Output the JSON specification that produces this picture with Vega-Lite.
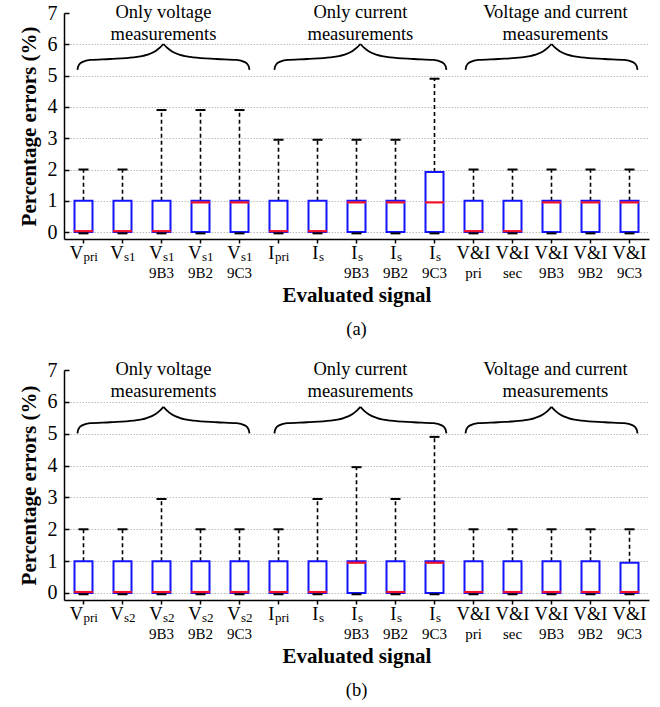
{
  "$schema": "https://vega.github.io/schema/vega-lite/v6.json",
  "padding": {"left": 18, "top": 2, "right": 5, "bottom": 5},
  "spacing": 21,
  "datasets": {
    "box_a": [
      {"cat": "Vpri", "main": "V", "sub": "pri", "line2": "", "min": -0.04, "q1": 0, "med": 0.03, "q3": 1, "max": 2},
      {"cat": "Vs1", "main": "V", "sub": "s1", "line2": "", "min": -0.04, "q1": 0, "med": 0.03, "q3": 1, "max": 2},
      {"cat": "Vs1_9B3", "main": "V", "sub": "s1", "line2": "9B3", "min": -0.04, "q1": 0, "med": 0.03, "q3": 1, "max": 3.9},
      {"cat": "Vs1_9B2", "main": "V", "sub": "s1", "line2": "9B2", "min": -0.04, "q1": 0, "med": 0.95, "q3": 1, "max": 3.9},
      {"cat": "Vs1_9C3", "main": "V", "sub": "s1", "line2": "9C3", "min": -0.04, "q1": 0, "med": 0.95, "q3": 1, "max": 3.9},
      {"cat": "Ipri", "main": "I", "sub": "pri", "line2": "", "min": -0.04, "q1": 0, "med": 0.03, "q3": 1, "max": 2.95},
      {"cat": "Is", "main": "I", "sub": "s", "line2": "", "min": -0.04, "q1": 0, "med": 0.03, "q3": 1, "max": 2.95},
      {"cat": "Is_9B3", "main": "I", "sub": "s", "line2": "9B3", "min": -0.04, "q1": 0, "med": 0.95, "q3": 1, "max": 2.95},
      {"cat": "Is_9B2", "main": "I", "sub": "s", "line2": "9B2", "min": -0.04, "q1": 0, "med": 0.95, "q3": 1, "max": 2.95},
      {"cat": "Is_9C3", "main": "I", "sub": "s", "line2": "9C3", "min": -0.04, "q1": 0, "med": 0.95, "q3": 1.92, "max": 4.9},
      {"cat": "VIpri", "main": "V&I", "sub": "", "line2": "pri", "min": -0.04, "q1": 0, "med": 0.03, "q3": 1, "max": 2},
      {"cat": "VIsec", "main": "V&I", "sub": "", "line2": "sec", "min": -0.04, "q1": 0, "med": 0.03, "q3": 1, "max": 2},
      {"cat": "VI9B3", "main": "V&I", "sub": "", "line2": "9B3", "min": -0.04, "q1": 0, "med": 0.95, "q3": 1, "max": 2},
      {"cat": "VI9B2", "main": "V&I", "sub": "", "line2": "9B2", "min": -0.04, "q1": 0, "med": 0.95, "q3": 1, "max": 2},
      {"cat": "VI9C3", "main": "V&I", "sub": "", "line2": "9C3", "min": -0.04, "q1": 0, "med": 0.95, "q3": 1, "max": 2}
    ],
    "box_b": [
      {"cat": "Vpri", "main": "V", "sub": "pri", "line2": "", "min": -0.04, "q1": 0, "med": 0.03, "q3": 1, "max": 2},
      {"cat": "Vs2", "main": "V", "sub": "s2", "line2": "", "min": -0.04, "q1": 0, "med": 0.03, "q3": 1, "max": 2},
      {"cat": "Vs2_9B3", "main": "V", "sub": "s2", "line2": "9B3", "min": -0.04, "q1": 0, "med": 0.03, "q3": 1, "max": 2.95},
      {"cat": "Vs2_9B2", "main": "V", "sub": "s2", "line2": "9B2", "min": -0.04, "q1": 0, "med": 0.03, "q3": 1, "max": 2},
      {"cat": "Vs2_9C3", "main": "V", "sub": "s2", "line2": "9C3", "min": -0.04, "q1": 0, "med": 0.03, "q3": 1, "max": 2},
      {"cat": "Ipri", "main": "I", "sub": "pri", "line2": "", "min": -0.04, "q1": 0, "med": 0.03, "q3": 1, "max": 2},
      {"cat": "Is", "main": "I", "sub": "s", "line2": "", "min": -0.04, "q1": 0, "med": 0.03, "q3": 1, "max": 2.95},
      {"cat": "Is_9B3", "main": "I", "sub": "s", "line2": "9B3", "min": -0.04, "q1": 0, "med": 0.95, "q3": 1, "max": 3.95},
      {"cat": "Is_9B2", "main": "I", "sub": "s", "line2": "9B2", "min": -0.04, "q1": 0, "med": 0.03, "q3": 1, "max": 2.95},
      {"cat": "Is_9C3", "main": "I", "sub": "s", "line2": "9C3", "min": -0.04, "q1": 0, "med": 0.95, "q3": 1, "max": 4.9},
      {"cat": "VIpri", "main": "V&I", "sub": "", "line2": "pri", "min": -0.04, "q1": 0, "med": 0.03, "q3": 1, "max": 2},
      {"cat": "VIsec", "main": "V&I", "sub": "", "line2": "sec", "min": -0.04, "q1": 0, "med": 0.03, "q3": 1, "max": 2},
      {"cat": "VI9B3", "main": "V&I", "sub": "", "line2": "9B3", "min": -0.04, "q1": 0, "med": 0.03, "q3": 1, "max": 2},
      {"cat": "VI9B2", "main": "V&I", "sub": "", "line2": "9B2", "min": -0.04, "q1": 0, "med": 0.03, "q3": 1, "max": 2},
      {"cat": "VI9C3", "main": "V&I", "sub": "", "line2": "9C3", "min": -0.04, "q1": 0, "med": 0.03, "q3": 0.95, "max": 2}
    ],
    "brace_a": [
      {"b": "1L", "x": 0.345, "y": 5.18}, {"b": "1L", "x": 0.36, "y": 5.28}, {"b": "1L", "x": 0.4, "y": 5.37}, {"b": "1L", "x": 0.48, "y": 5.44}, {"b": "1L", "x": 0.67, "y": 5.5}, {"b": "1L", "x": 1.18, "y": 5.53}, {"b": "1L", "x": 1.78, "y": 5.58}, {"b": "1L", "x": 2.12, "y": 5.66}, {"b": "1L", "x": 2.34, "y": 5.78}, {"b": "1L", "x": 2.465, "y": 5.9}, {"b": "1L", "x": 2.55, "y": 6.01},
      {"b": "1R", "x": 2.55, "y": 6.01}, {"b": "1R", "x": 2.635, "y": 5.9}, {"b": "1R", "x": 2.76, "y": 5.78}, {"b": "1R", "x": 2.98, "y": 5.66}, {"b": "1R", "x": 3.32, "y": 5.58}, {"b": "1R", "x": 3.92, "y": 5.53}, {"b": "1R", "x": 4.43, "y": 5.5}, {"b": "1R", "x": 4.62, "y": 5.44}, {"b": "1R", "x": 4.7, "y": 5.37}, {"b": "1R", "x": 4.74, "y": 5.28}, {"b": "1R", "x": 4.755, "y": 5.18},
      {"b": "2L", "x": 5.395, "y": 5.18}, {"b": "2L", "x": 5.41, "y": 5.28}, {"b": "2L", "x": 5.45, "y": 5.37}, {"b": "2L", "x": 5.53, "y": 5.44}, {"b": "2L", "x": 5.72, "y": 5.5}, {"b": "2L", "x": 6.23, "y": 5.53}, {"b": "2L", "x": 6.83, "y": 5.58}, {"b": "2L", "x": 7.17, "y": 5.66}, {"b": "2L", "x": 7.39, "y": 5.78}, {"b": "2L", "x": 7.515, "y": 5.9}, {"b": "2L", "x": 7.6, "y": 6.01},
      {"b": "2R", "x": 7.6, "y": 6.01}, {"b": "2R", "x": 7.685, "y": 5.9}, {"b": "2R", "x": 7.81, "y": 5.78}, {"b": "2R", "x": 8.03, "y": 5.66}, {"b": "2R", "x": 8.37, "y": 5.58}, {"b": "2R", "x": 8.97, "y": 5.53}, {"b": "2R", "x": 9.48, "y": 5.5}, {"b": "2R", "x": 9.67, "y": 5.44}, {"b": "2R", "x": 9.75, "y": 5.37}, {"b": "2R", "x": 9.79, "y": 5.28}, {"b": "2R", "x": 9.805, "y": 5.18},
      {"b": "3L", "x": 10.295, "y": 5.18}, {"b": "3L", "x": 10.31, "y": 5.28}, {"b": "3L", "x": 10.35, "y": 5.37}, {"b": "3L", "x": 10.43, "y": 5.44}, {"b": "3L", "x": 10.62, "y": 5.5}, {"b": "3L", "x": 11.13, "y": 5.53}, {"b": "3L", "x": 11.73, "y": 5.58}, {"b": "3L", "x": 12.07, "y": 5.66}, {"b": "3L", "x": 12.29, "y": 5.78}, {"b": "3L", "x": 12.415, "y": 5.9}, {"b": "3L", "x": 12.5, "y": 6.01},
      {"b": "3R", "x": 12.5, "y": 6.01}, {"b": "3R", "x": 12.585, "y": 5.9}, {"b": "3R", "x": 12.71, "y": 5.78}, {"b": "3R", "x": 12.93, "y": 5.66}, {"b": "3R", "x": 13.27, "y": 5.58}, {"b": "3R", "x": 13.87, "y": 5.53}, {"b": "3R", "x": 14.37, "y": 5.5}, {"b": "3R", "x": 14.57, "y": 5.44}, {"b": "3R", "x": 14.65, "y": 5.37}, {"b": "3R", "x": 14.69, "y": 5.28}, {"b": "3R", "x": 14.705, "y": 5.18}
    ],
    "brace_b": [
      {"b": "1L", "x": 0.345, "y": 5.01}, {"b": "1L", "x": 0.36, "y": 5.11}, {"b": "1L", "x": 0.4, "y": 5.2}, {"b": "1L", "x": 0.48, "y": 5.27}, {"b": "1L", "x": 0.67, "y": 5.33}, {"b": "1L", "x": 1.18, "y": 5.36}, {"b": "1L", "x": 1.78, "y": 5.41}, {"b": "1L", "x": 2.12, "y": 5.49}, {"b": "1L", "x": 2.34, "y": 5.61}, {"b": "1L", "x": 2.465, "y": 5.73}, {"b": "1L", "x": 2.55, "y": 5.84},
      {"b": "1R", "x": 2.55, "y": 5.84}, {"b": "1R", "x": 2.635, "y": 5.73}, {"b": "1R", "x": 2.76, "y": 5.61}, {"b": "1R", "x": 2.98, "y": 5.49}, {"b": "1R", "x": 3.32, "y": 5.41}, {"b": "1R", "x": 3.92, "y": 5.36}, {"b": "1R", "x": 4.43, "y": 5.33}, {"b": "1R", "x": 4.62, "y": 5.27}, {"b": "1R", "x": 4.7, "y": 5.2}, {"b": "1R", "x": 4.74, "y": 5.11}, {"b": "1R", "x": 4.755, "y": 5.01},
      {"b": "2L", "x": 5.395, "y": 5.01}, {"b": "2L", "x": 5.41, "y": 5.11}, {"b": "2L", "x": 5.45, "y": 5.2}, {"b": "2L", "x": 5.53, "y": 5.27}, {"b": "2L", "x": 5.72, "y": 5.33}, {"b": "2L", "x": 6.23, "y": 5.36}, {"b": "2L", "x": 6.83, "y": 5.41}, {"b": "2L", "x": 7.17, "y": 5.49}, {"b": "2L", "x": 7.39, "y": 5.61}, {"b": "2L", "x": 7.515, "y": 5.73}, {"b": "2L", "x": 7.6, "y": 5.84},
      {"b": "2R", "x": 7.6, "y": 5.84}, {"b": "2R", "x": 7.685, "y": 5.73}, {"b": "2R", "x": 7.81, "y": 5.61}, {"b": "2R", "x": 8.03, "y": 5.49}, {"b": "2R", "x": 8.37, "y": 5.41}, {"b": "2R", "x": 8.97, "y": 5.36}, {"b": "2R", "x": 9.48, "y": 5.33}, {"b": "2R", "x": 9.67, "y": 5.27}, {"b": "2R", "x": 9.75, "y": 5.2}, {"b": "2R", "x": 9.79, "y": 5.11}, {"b": "2R", "x": 9.805, "y": 5.01},
      {"b": "3L", "x": 10.295, "y": 5.01}, {"b": "3L", "x": 10.31, "y": 5.11}, {"b": "3L", "x": 10.35, "y": 5.2}, {"b": "3L", "x": 10.43, "y": 5.27}, {"b": "3L", "x": 10.62, "y": 5.33}, {"b": "3L", "x": 11.13, "y": 5.36}, {"b": "3L", "x": 11.73, "y": 5.41}, {"b": "3L", "x": 12.07, "y": 5.49}, {"b": "3L", "x": 12.29, "y": 5.61}, {"b": "3L", "x": 12.415, "y": 5.73}, {"b": "3L", "x": 12.5, "y": 5.84},
      {"b": "3R", "x": 12.5, "y": 5.84}, {"b": "3R", "x": 12.585, "y": 5.73}, {"b": "3R", "x": 12.71, "y": 5.61}, {"b": "3R", "x": 12.93, "y": 5.49}, {"b": "3R", "x": 13.27, "y": 5.41}, {"b": "3R", "x": 13.87, "y": 5.36}, {"b": "3R", "x": 14.37, "y": 5.33}, {"b": "3R", "x": 14.57, "y": 5.27}, {"b": "3R", "x": 14.65, "y": 5.2}, {"b": "3R", "x": 14.69, "y": 5.11}, {"b": "3R", "x": 14.705, "y": 5.01}
    ],
    "groups_a": [
      {"x": 2.55, "y": 6.85, "t": "Only voltage"}, {"x": 2.55, "y": 6.15, "t": "measurements"},
      {"x": 7.6, "y": 6.85, "t": "Only current"}, {"x": 7.6, "y": 6.15, "t": "measurements"},
      {"x": 12.6, "y": 6.85, "t": "Voltage and current"}, {"x": 12.6, "y": 6.15, "t": "measurements"}
    ],
    "groups_b": [
      {"x": 2.55, "y": 6.84, "t": "Only voltage"}, {"x": 2.55, "y": 6.16, "t": "measurements"},
      {"x": 7.6, "y": 6.84, "t": "Only current"}, {"x": 7.6, "y": 6.16, "t": "measurements"},
      {"x": 12.6, "y": 6.84, "t": "Voltage and current"}, {"x": 12.6, "y": 6.16, "t": "measurements"}
    ]
  },
  "vconcat": [
    {
      "width": 585,
      "height": 226,
      "title": {"text": "(a)"},
      "resolve": {"scale": {"x": "independent"}},
      "layer": [
        {
          "data": {"name": "box_a"},
          "encoding": {
            "x": {"field": "cat", "type": "nominal", "sort": null, "title": "Evaluated signal", "scale": {"paddingInner": 0, "paddingOuter": 0}}
          },
          "layer": [
            {"mark": {"type": "rule", "color": "black", "strokeWidth": 1.6, "strokeDash": [4, 3]},
             "encoding": {"y": {"field": "q3", "type": "quantitative", "title": "Percentage errors (%)", "scale": {"domain": [-0.22, 7], "nice": false, "zero": false},
               "axis": {"values": [0, 1, 2, 3, 4, 5, 6, 7], "gridOpacity": {"condition": {"test": "datum.value === 7", "value": 0}, "value": 1}}},
               "y2": {"field": "max"}}},
            {"mark": {"type": "bar", "size": 18, "fill": "white", "stroke": "#1414ff", "strokeWidth": 2},
             "encoding": {"y": {"field": "q1", "type": "quantitative", "title": "Percentage errors (%)", "axis": {"values": [0, 1, 2, 3, 4, 5, 6, 7], "gridOpacity": {"condition": {"test": "datum.value === 7", "value": 0}, "value": 1}}}, "y2": {"field": "q3"}}},
            {"mark": {"type": "tick", "size": 19, "thickness": 2.2, "color": "#f0102c", "opacity": 1},
             "encoding": {"y": {"field": "med", "type": "quantitative", "title": "Percentage errors (%)", "axis": {"values": [0, 1, 2, 3, 4, 5, 6, 7], "gridOpacity": {"condition": {"test": "datum.value === 7", "value": 0}, "value": 1}}}}},
            {"mark": {"type": "tick", "size": 10, "thickness": 2, "color": "black", "opacity": 1},
             "encoding": {"y": {"field": "max", "type": "quantitative", "title": "Percentage errors (%)", "axis": {"values": [0, 1, 2, 3, 4, 5, 6, 7], "gridOpacity": {"condition": {"test": "datum.value === 7", "value": 0}, "value": 1}}}}},
            {"mark": {"type": "tick", "size": 10, "thickness": 2, "color": "black", "opacity": 1},
             "encoding": {"y": {"field": "min", "type": "quantitative", "title": "Percentage errors (%)", "axis": {"values": [0, 1, 2, 3, 4, 5, 6, 7], "gridOpacity": {"condition": {"test": "datum.value === 7", "value": 0}, "value": 1}}}}},
            {"transform": [{"filter": "datum.sub != '' && datum.sub != 'pri'"}],
             "mark": {"type": "text", "align": "right", "baseline": "alphabetic", "dx": 1, "dy": 20, "fontSize": 18.5, "font": "Liberation Serif", "color": "black"},
             "encoding": {"y": {"value": "height"}, "text": {"field": "main"}}},
            {"transform": [{"filter": "datum.sub != '' && datum.sub != 'pri'"}],
             "mark": {"type": "text", "align": "left", "baseline": "alphabetic", "dx": 1.5, "dy": 22, "fontSize": 13, "font": "Liberation Serif", "color": "black"},
             "encoding": {"y": {"value": "height"}, "text": {"field": "sub"}}},
            {"transform": [{"filter": "datum.sub == 'pri' && datum.main == 'V'"}],
             "mark": {"type": "text", "align": "right", "baseline": "alphabetic", "dx": -0.5, "dy": 20, "fontSize": 18.5, "font": "Liberation Serif", "color": "black"},
             "encoding": {"y": {"value": "height"}, "text": {"field": "main"}}},
            {"transform": [{"filter": "datum.sub == 'pri' && datum.main == 'V'"}],
             "mark": {"type": "text", "align": "left", "baseline": "alphabetic", "dx": 0, "dy": 22, "fontSize": 13, "font": "Liberation Serif", "color": "black"},
             "encoding": {"y": {"value": "height"}, "text": {"field": "sub"}}},
            {"transform": [{"filter": "datum.sub == 'pri' && datum.main == 'I'"}],
             "mark": {"type": "text", "align": "right", "baseline": "alphabetic", "dx": -4, "dy": 20, "fontSize": 18.5, "font": "Liberation Serif", "color": "black"},
             "encoding": {"y": {"value": "height"}, "text": {"field": "main"}}},
            {"transform": [{"filter": "datum.sub == 'pri' && datum.main == 'I'"}],
             "mark": {"type": "text", "align": "left", "baseline": "alphabetic", "dx": -3.5, "dy": 22, "fontSize": 13, "font": "Liberation Serif", "color": "black"},
             "encoding": {"y": {"value": "height"}, "text": {"field": "sub"}}},
            {"transform": [{"filter": "datum.sub == ''"}],
             "mark": {"type": "text", "align": "center", "baseline": "alphabetic", "dy": 20, "fontSize": 18.5, "font": "Liberation Serif", "color": "black"},
             "encoding": {"y": {"value": "height"}, "text": {"field": "main"}}},
            {"transform": [{"filter": "datum.line2 != ''"}],
             "mark": {"type": "text", "align": "center", "baseline": "alphabetic", "dy": 38.5, "fontSize": 15, "font": "Liberation Serif", "color": "black"},
             "encoding": {"y": {"value": "height"}, "text": {"field": "line2"}}}
          ]
        },
        {
          "data": {"name": "brace_a"},
          "mark": {"type": "line", "interpolate": "monotone", "color": "black", "strokeWidth": 1.8},
          "encoding": {
            "x": {"field": "x", "type": "quantitative", "scale": {"domain": [0, 15], "nice": false, "zero": false}, "axis": null},
            "y": {"field": "y", "type": "quantitative", "title": "Percentage errors (%)", "axis": {"values": [0, 1, 2, 3, 4, 5, 6, 7], "gridOpacity": {"condition": {"test": "datum.value === 7", "value": 0}, "value": 1}}},
            "detail": {"field": "b"}
          }
        },
        {
          "data": {"name": "groups_a"},
          "mark": {"type": "text", "align": "center", "baseline": "alphabetic", "fontSize": 18.5, "font": "Liberation Serif", "color": "black"},
          "encoding": {
            "x": {"field": "x", "type": "quantitative", "scale": {"domain": [0, 15], "nice": false, "zero": false}, "axis": null},
            "y": {"field": "y", "type": "quantitative", "title": "Percentage errors (%)", "axis": {"values": [0, 1, 2, 3, 4, 5, 6, 7], "gridOpacity": {"condition": {"test": "datum.value === 7", "value": 0}, "value": 1}}},
            "text": {"field": "t"}
          }
        }
      ]
    },
    {
      "width": 585,
      "height": 230,
      "title": {"text": "(b)"},
      "resolve": {"scale": {"x": "independent"}},
      "layer": [
        {
          "data": {"name": "box_b"},
          "encoding": {
            "x": {"field": "cat", "type": "nominal", "sort": null, "title": "Evaluated signal", "scale": {"paddingInner": 0, "paddingOuter": 0}}
          },
          "layer": [
            {"mark": {"type": "rule", "color": "black", "strokeWidth": 1.6, "strokeDash": [4, 3]},
             "encoding": {"y": {"field": "q3", "type": "quantitative", "title": "Percentage errors (%)", "scale": {"domain": [-0.22, 7], "nice": false, "zero": false},
               "axis": {"values": [0, 1, 2, 3, 4, 5, 6, 7], "gridOpacity": {"condition": {"test": "datum.value === 7", "value": 0}, "value": 1}}},
               "y2": {"field": "max"}}},
            {"mark": {"type": "bar", "size": 18, "fill": "white", "stroke": "#1414ff", "strokeWidth": 2},
             "encoding": {"y": {"field": "q1", "type": "quantitative", "title": "Percentage errors (%)", "axis": {"values": [0, 1, 2, 3, 4, 5, 6, 7], "gridOpacity": {"condition": {"test": "datum.value === 7", "value": 0}, "value": 1}}}, "y2": {"field": "q3"}}},
            {"mark": {"type": "tick", "size": 19, "thickness": 2.2, "color": "#f0102c", "opacity": 1},
             "encoding": {"y": {"field": "med", "type": "quantitative", "title": "Percentage errors (%)", "axis": {"values": [0, 1, 2, 3, 4, 5, 6, 7], "gridOpacity": {"condition": {"test": "datum.value === 7", "value": 0}, "value": 1}}}}},
            {"mark": {"type": "tick", "size": 10, "thickness": 2, "color": "black", "opacity": 1},
             "encoding": {"y": {"field": "max", "type": "quantitative", "title": "Percentage errors (%)", "axis": {"values": [0, 1, 2, 3, 4, 5, 6, 7], "gridOpacity": {"condition": {"test": "datum.value === 7", "value": 0}, "value": 1}}}}},
            {"mark": {"type": "tick", "size": 10, "thickness": 2, "color": "black", "opacity": 1},
             "encoding": {"y": {"field": "min", "type": "quantitative", "title": "Percentage errors (%)", "axis": {"values": [0, 1, 2, 3, 4, 5, 6, 7], "gridOpacity": {"condition": {"test": "datum.value === 7", "value": 0}, "value": 1}}}}},
            {"transform": [{"filter": "datum.sub != '' && datum.sub != 'pri'"}],
             "mark": {"type": "text", "align": "right", "baseline": "alphabetic", "dx": 1, "dy": 20, "fontSize": 18.5, "font": "Liberation Serif", "color": "black"},
             "encoding": {"y": {"value": "height"}, "text": {"field": "main"}}},
            {"transform": [{"filter": "datum.sub != '' && datum.sub != 'pri'"}],
             "mark": {"type": "text", "align": "left", "baseline": "alphabetic", "dx": 1.5, "dy": 22, "fontSize": 13, "font": "Liberation Serif", "color": "black"},
             "encoding": {"y": {"value": "height"}, "text": {"field": "sub"}}},
            {"transform": [{"filter": "datum.sub == 'pri' && datum.main == 'V'"}],
             "mark": {"type": "text", "align": "right", "baseline": "alphabetic", "dx": -0.5, "dy": 20, "fontSize": 18.5, "font": "Liberation Serif", "color": "black"},
             "encoding": {"y": {"value": "height"}, "text": {"field": "main"}}},
            {"transform": [{"filter": "datum.sub == 'pri' && datum.main == 'V'"}],
             "mark": {"type": "text", "align": "left", "baseline": "alphabetic", "dx": 0, "dy": 22, "fontSize": 13, "font": "Liberation Serif", "color": "black"},
             "encoding": {"y": {"value": "height"}, "text": {"field": "sub"}}},
            {"transform": [{"filter": "datum.sub == 'pri' && datum.main == 'I'"}],
             "mark": {"type": "text", "align": "right", "baseline": "alphabetic", "dx": -4, "dy": 20, "fontSize": 18.5, "font": "Liberation Serif", "color": "black"},
             "encoding": {"y": {"value": "height"}, "text": {"field": "main"}}},
            {"transform": [{"filter": "datum.sub == 'pri' && datum.main == 'I'"}],
             "mark": {"type": "text", "align": "left", "baseline": "alphabetic", "dx": -3.5, "dy": 22, "fontSize": 13, "font": "Liberation Serif", "color": "black"},
             "encoding": {"y": {"value": "height"}, "text": {"field": "sub"}}},
            {"transform": [{"filter": "datum.sub == ''"}],
             "mark": {"type": "text", "align": "center", "baseline": "alphabetic", "dy": 20, "fontSize": 18.5, "font": "Liberation Serif", "color": "black"},
             "encoding": {"y": {"value": "height"}, "text": {"field": "main"}}},
            {"transform": [{"filter": "datum.line2 != ''"}],
             "mark": {"type": "text", "align": "center", "baseline": "alphabetic", "dy": 38.5, "fontSize": 15, "font": "Liberation Serif", "color": "black"},
             "encoding": {"y": {"value": "height"}, "text": {"field": "line2"}}}
          ]
        },
        {
          "data": {"name": "brace_b"},
          "mark": {"type": "line", "interpolate": "monotone", "color": "black", "strokeWidth": 1.8},
          "encoding": {
            "x": {"field": "x", "type": "quantitative", "scale": {"domain": [0, 15], "nice": false, "zero": false}, "axis": null},
            "y": {"field": "y", "type": "quantitative", "title": "Percentage errors (%)", "axis": {"values": [0, 1, 2, 3, 4, 5, 6, 7], "gridOpacity": {"condition": {"test": "datum.value === 7", "value": 0}, "value": 1}}},
            "detail": {"field": "b"}
          }
        },
        {
          "data": {"name": "groups_b"},
          "mark": {"type": "text", "align": "center", "baseline": "alphabetic", "fontSize": 18.5, "font": "Liberation Serif", "color": "black"},
          "encoding": {
            "x": {"field": "x", "type": "quantitative", "scale": {"domain": [0, 15], "nice": false, "zero": false}, "axis": null},
            "y": {"field": "y", "type": "quantitative", "title": "Percentage errors (%)", "axis": {"values": [0, 1, 2, 3, 4, 5, 6, 7], "gridOpacity": {"condition": {"test": "datum.value === 7", "value": 0}, "value": 1}}},
            "text": {"field": "t"}
          }
        }
      ]
    }
  ],
  "config": {
    "font": "Liberation Serif",
    "view": {"stroke": null},
    "axis": {
      "labelFont": "Liberation Serif", "titleFont": "Liberation Serif",
      "labelColor": "black", "titleColor": "black",
      "domainColor": "black", "tickColor": "black",
      "domainWidth": 1.5, "tickWidth": 1.5,
      "titleFontWeight": "bold", "titleFontSize": 21
    },
    "axisY": {"labelFontSize": 20, "tickSize": -5, "labelPadding": 12, "grid": true, "gridColor": "#bdbdbd", "gridDash": [1.5, 1.5], "gridWidth": 1, "titlePadding": 8, "labelOverlap": false},
    "axisX": {"labels": false, "tickSize": 4, "grid": false, "titlePadding": 41},
    "title": {"font": "Liberation Serif", "fontSize": 18.5, "fontWeight": "normal", "orient": "bottom", "offset": 14, "color": "black", "anchor": "middle"}
  }
}
